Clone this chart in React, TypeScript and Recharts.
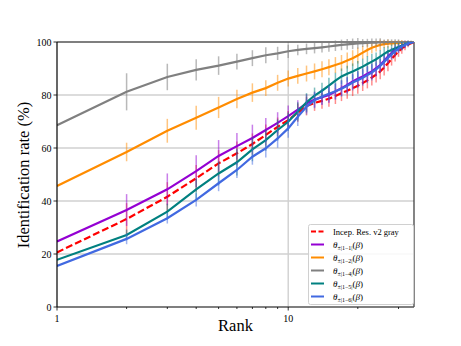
import React from "react";
import {
  LineChart,
  Line,
  XAxis,
  YAxis,
  CartesianGrid,
  ErrorBar,
  Legend,
  Label,
  ReferenceLine,
} from "recharts";

const ranks = [
  1, 2, 3, 4, 5, 6, 7, 8, 9, 10, 11, 12, 13, 14, 15, 16, 17, 18, 19, 20, 21,
  22, 23, 24, 25, 26, 27, 28, 29, 30, 31, 32, 33, 34, 35,
];

const incepRes = [
  20.6, 33.2, 41.6, 48.6, 54.2, 58.0, 61.5, 64.9, 68.0, 70.5, 73.3, 75.8, 77.0,
  77.8, 78.6, 79.6, 80.7, 81.6, 82.6, 83.5, 84.5, 85.5, 86.6, 87.7, 88.9, 90.4,
  92.0, 93.6, 95.1, 96.4, 97.6, 98.4, 99.0, 99.6, 100,
];
const theta11 = [
  24.7, 36.6, 44.4, 51.3, 57.0, 60.7, 63.8, 66.8, 69.5, 72.0, 74.5, 76.8, 78.3,
  79.2, 80.0, 81.3, 82.6, 83.8, 85.1, 86.1, 87.0, 88.0, 88.9, 90.1, 91.3, 92.9,
  94.5, 95.8, 97.0, 97.9, 98.6, 99.1, 99.5, 99.8, 100,
];
const theta12 = [
  45.7, 58.5, 66.5, 71.4, 75.3, 78.5, 80.9, 82.6, 84.6, 86.2, 87.2, 88.1, 88.9,
  89.7, 90.5, 91.3, 92.1, 93.0, 93.9, 94.9, 96.0, 97.0, 97.8, 98.4, 98.9, 99.2,
  99.4, 99.5, 99.6, 99.7, 99.8, 99.9, 100, 100, 100,
];
const theta14 = [
  68.6, 81.2, 86.8, 89.5, 91.1, 92.6, 93.9, 95.0, 95.7, 96.5, 97.0, 97.4, 97.7,
  98.0, 98.3, 98.6, 98.9, 99.1, 99.3, 99.5, 99.6, 99.7, 99.8, 99.8, 99.9, 99.9,
  100, 100, 100, 100, 100, 100, 100, 100, 100,
];
const theta15 = [
  17.8, 27.2, 36.0, 44.4, 50.4, 54.6, 59.5, 63.0, 66.8, 69.9, 73.8, 77.2, 79.8,
  81.6, 83.5, 85.4, 87.0, 88.0, 88.9, 89.8, 90.7, 91.7, 92.6, 93.5, 94.5, 95.5,
  96.4, 97.0, 97.6, 98.1, 98.6, 99.1, 99.5, 99.8, 100,
];
const theta16 = [
  15.5, 25.7, 33.5, 40.4, 46.7, 51.7, 56.7, 59.9, 63.6, 67.4, 71.8, 75.6, 78.0,
  79.4, 80.5, 81.4, 82.4, 83.5, 84.7, 85.6, 86.5, 87.5, 88.5, 89.7, 91.0, 92.5,
  94.0, 95.3, 96.5, 97.5, 98.3, 98.9, 99.4, 99.8, 100,
];

// spread of each point (+/-)
const incepResErr = [
  0, 6, 5.5, 5, 5, 4.5, 4, 4, 3.5, 3.5, 3.5, 3.5, 3, 3, 3, 3, 3, 3, 3, 3, 3, 3,
  3, 3, 3, 3, 3, 2.5, 2.5, 2, 2, 1.5, 1, 0.5, 0,
];
const theta11Err = [
  0, 6, 6, 6, 6, 5, 5, 4.5, 4, 4, 3.5, 3.5, 3, 3, 3, 3, 3, 3, 3, 3, 3, 3, 3, 3,
  2.5, 2.5, 2.5, 2, 2, 2, 1.5, 1.5, 1, 0.5, 0,
];
const theta12Err = [
  0, 3.5, 4.5, 4.5, 4, 3.5, 3.5, 3, 3, 3, 3, 3, 3, 3, 3, 3, 3, 3, 3, 3, 2.5,
  2.5, 2, 2, 2, 1.5, 1.5, 1, 1, 1, 1, 0.5, 0.5, 0.5, 0,
];
const theta14Err = [
  0, 7, 5, 4, 3.5, 3, 3, 3, 2.5, 2.5, 2, 2, 2, 2, 2, 2, 2, 2, 2, 2, 1.5, 1.5,
  1.5, 1.5, 1.5, 1, 1, 1, 1, 1, 0.5, 0.5, 0.5, 0.5, 0,
];
const theta15Err = [
  0, 2, 3, 4, 4.5, 5, 4.5, 4, 4, 3.5, 3.5, 3.5, 3, 3, 3, 3, 3, 3, 3, 3, 3, 3, 3,
  2.5, 2.5, 2.5, 2, 2, 2, 1.5, 1.5, 1, 1, 0.5, 0,
];
const theta16Err = [
  0, 2, 2, 2.5, 3, 3, 3, 3.5, 3.5, 3.5, 3.5, 3, 3, 3, 3, 3, 3, 3, 3, 3, 3, 3, 3,
  2.5, 2.5, 2.5, 2, 2, 2, 1.5, 1.5, 1, 1, 0.5, 0,
];

const xTicks = [1, 2, 3, 4, 5, 6, 7, 8, 9, 10, 20, 30];
const yTicks = [0, 20, 40, 60, 80, 100];

const series = [
  { key: "incep", values: incepRes, err: incepResErr, color: "#ff0000", bar: "rgba(255,0,0,0.45)", dash: "7 3", label: "Incep. Res. v2 gray", sub: "" },
  { key: "t11", values: theta11, err: theta11Err, color: "#9400d3", bar: "rgba(148,0,211,0.5)", dash: undefined, label: "θ", sub: "±|1−1|" },
  { key: "t12", values: theta12, err: theta12Err, color: "#ff8c00", bar: "rgba(255,140,0,0.5)", dash: undefined, label: "θ", sub: "±|1−2|" },
  { key: "t14", values: theta14, err: theta14Err, color: "#808080", bar: "rgba(128,128,128,0.55)", dash: undefined, label: "θ", sub: "±|1−4|" },
  { key: "t15", values: theta15, err: theta15Err, color: "#008080", bar: "rgba(0,128,128,0.5)", dash: undefined, label: "θ", sub: "±|1−5|" },
  { key: "t16", values: theta16, err: theta16Err, color: "#4169e1", bar: "rgba(65,105,225,0.5)", dash: undefined, label: "θ", sub: "±|1−6|" },
];

const data = ranks.map((rank, i) => {
  const row: Record<string, number> = { rank };
  series.forEach((s) => {
    row[s.key] = s.values[i];
    row[s.key + "Err"] = s.err[i];
  });
  return row;
});

const FONT = "'Liberation Serif', 'DejaVu Serif', serif";

const RankTick = (props: any) => {
  const { x, y, payload } = props;
  const major = payload.value === 1 || payload.value === 10;
  return (
    <g>
      <line x1={x} x2={x} y1={y} y2={y + (major ? 3.5 : 2)} stroke="#000" strokeWidth={0.8} />
      {major && (
        <text x={x} y={y + 14.5} textAnchor="middle" fontSize={10} style={{ fontFamily: FONT }} fill="#000">
          {payload.value}
        </text>
      )}
    </g>
  );
};

const ValueTick = (props: any) => {
  const { x, y, payload } = props;
  return (
    <text x={x} y={y} dy={3.5} textAnchor="end" fontSize={10} style={{ fontFamily: FONT }} fill="#000">
      {payload.value}
    </text>
  );
};

const renderLegend = () => (
  <svg width={106} height={81} style={{ display: "block" }}>
    <rect x={0.5} y={0.5} width={105} height={80} rx={2} fill="rgba(255,255,255,0.85)" stroke="#d0d0d0" />
    {series.map((s, i) => {
      const cy = 7.5 + i * 13;
      return (
        <g key={s.key}>
          <line x1={3} x2={16} y1={cy} y2={cy} stroke={s.color} strokeWidth={2} strokeDasharray={s.dash ? "5 2.5" : undefined} />
          {s.sub ? (
            <text x={25} y={cy + 3} fontSize={9} style={{ fontFamily: FONT }} fill="#000">
              <tspan fontStyle="italic">{s.label}</tspan>
              <tspan fontSize={6} dy={2}>{s.sub}</tspan>
              <tspan dy={-2}>(</tspan>
              <tspan fontStyle="italic">β</tspan>
              <tspan>)</tspan>
            </text>
          ) : (
            <text x={25} y={cy + 3} fontSize={8.5} style={{ fontFamily: FONT }} fill="#000">
              {s.label}
            </text>
          )}
        </g>
      );
    })}
  </svg>
);

export default function App() {
  return (
    <LineChart
      width={453}
      height={338}
      data={data}
      margin={{ top: 34, right: 47, left: 0, bottom: 0 }}
    >
      <CartesianGrid
        horizontalValues={[20, 40, 60, 80]}
        verticalValues={[10]}
        stroke="#d0d0d0"
        strokeWidth={1.4}
      />
      <XAxis
        dataKey="rank"
        type="number"
        scale="log"
        domain={[1, 35]}
        allowDataOverflow
        ticks={xTicks}
        interval={0}
        height={39}
        tickSize={0}
        tickMargin={0}
        tickLine={false}
        tick={<RankTick />}
        axisLine={{ stroke: "#555", strokeWidth: 1.6 }}
      >
        <Label
          content={() => (
            <text x={227.5} y={323} textAnchor="middle" fontSize={16.5} style={{ fontFamily: FONT }} fill="#000">
              Rank
            </text>
          )}
        />
      </XAxis>
      <YAxis
        type="number"
        domain={[0, 100]}
        allowDataOverflow
        ticks={yTicks}
        interval={0}
        width={49}
        tickSize={3.5}
        tickMargin={2}
        tick={<ValueTick />}
        tickLine={{ stroke: "#000", strokeWidth: 0.8 }}
        axisLine={{ stroke: "#000", strokeWidth: 1.2 }}
      >
        <Label
          content={() => (
            <text
              x={17.5}
              y={167}
              transform="rotate(-90 17.5 167)"
              textAnchor="middle"
              dominantBaseline="middle"
              fontSize={16.5}
              style={{ fontFamily: FONT }}
              fill="#000"
            >
              Identification rate (%)
            </text>
          )}
        />
      </YAxis>
      <ReferenceLine y={100} stroke="#555" strokeWidth={1.6} />
      <ReferenceLine x={35} stroke="#333" strokeWidth={1.2} />
      {series.map((s) => (
        <Line
          key={s.key}
          dataKey={s.key}
          name={s.key}
          stroke={s.color}
          strokeWidth={2.2}
          strokeDasharray={s.dash}
          dot={false}
          activeDot={false}
          isAnimationActive={false}
        >
          <ErrorBar
            dataKey={s.key + "Err"}
            direction="y"
            width={0}
            stroke={s.bar}
            strokeWidth={1.5}
            isAnimationActive={false}
          />
        </Line>
      ))}
      <Legend
        layout="vertical"
        align="center"
        verticalAlign="middle"
        wrapperStyle={{ left: 300, top: 216, width: 106, height: 81 }}
        content={renderLegend}
      />
    </LineChart>
  );
}
